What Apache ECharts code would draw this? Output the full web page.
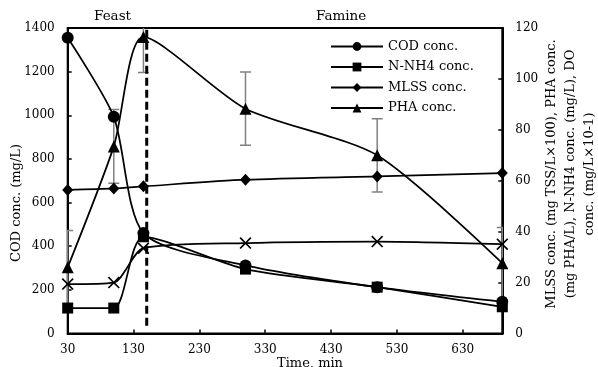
<!DOCTYPE html>
<html>
<head>
<meta charset="utf-8">
<script src="https://cdn.jsdelivr.net/npm/echarts@6/dist/echarts.min.js"></script>
<style>
html,body{margin:0;padding:0;background:#fff;}
#chart{width:598px;height:367px;}
</style>
</head>
<body>
<div id="chart"></div>
<script>
// ---- data ----
const times = [30, 100, 145, 300, 500, 690];
const codConc = [1355, 993, 460, 312, 212, 145];      // left axis, mg/L
const nh4Conc = [10, 10, 38, 25.3, 18.2, 10.5];        // right axis
const mlssConc = [56.4, 57, 57.8, 60.4, 61.7, 63];     // right axis
const phaConc = [26, 73.5, 116.5, 88.3, 70, 27.6];     // right axis
const phaErr = [14.5, 14.5, 14, 14.4, 14.4, 14];       // right axis, +/- error
const doConc = [19.4, 20, 33.5, 35.5, 36.1, 35.1];     // right axis (no legend)
const dividerTime = 150;
const dividerRange = [3, 120];
const xTicks = { min: 30, max: 690, interval: 100 };
const leftTicks = { min: 0, max: 1400, interval: 200 };
const rightTicks = { min: 0, max: 120, interval: 20 };
const seriesNames = ['COD conc.', 'N-NH4 conc.', 'MLSS conc.', 'PHA conc.'];

const FONT = 'DejaVu Serif';
const pair = (xs, ys) => xs.map((x, i) => [x, ys[i]]);
const crossPath = 'path://M0,1L1,0L5,4L9,0L10,1L6,5L10,9L9,10L5,6L1,10L0,9L4,5Z';
const plain = v => String(v);

const lineCommon = {
  type: 'line',
  smooth: 0.25,
  lineStyle: { color: '#000', width: 1.75 },
  itemStyle: { color: '#000' },
  emphasis: { disabled: true },
  z: 3
};

const chart = echarts.init(document.getElementById('chart'), null, { renderer: 'canvas' });
chart.setOption({
  animation: false,
  backgroundColor: '#fff',
  textStyle: { fontFamily: FONT, color: '#000' },
  grid: { left: 67.7, right: 95.7, top: 28, bottom: 33.5, show: true, borderColor: '#000', borderWidth: 2, backgroundColor: 'transparent' },
  legend: {
    data: seriesNames,
    orient: 'vertical',
    left: 325,
    top: 35,
    itemWidth: 52,
    itemHeight: 11,
    itemGap: 7.5,
    textStyle: { fontFamily: FONT, fontSize: 13, color: '#000' },
    selectedMode: false
  },
  xAxis: {
    type: 'value',
    min: xTicks.min, max: xTicks.max, interval: xTicks.interval,
    axisLine: { show: true, lineStyle: { color: '#000', width: 2 } },
    axisTick: { show: true, inside: true, length: 4, lineStyle: { color: '#000', width: 1.5 } },
    axisLabel: { fontFamily: FONT, fontSize: 12, color: '#000', margin: 10, showMaxLabel: false, formatter: plain },
    splitLine: { show: false }
  },
  yAxis: [
    {
      type: 'value', position: 'left',
      min: leftTicks.min, max: leftTicks.max, interval: leftTicks.interval,
      axisLine: { show: true, lineStyle: { color: '#000', width: 2 } },
      axisTick: { show: true, inside: true, length: 4, lineStyle: { color: '#000', width: 1.5 } },
      axisLabel: { fontFamily: FONT, fontSize: 12, color: '#000', margin: 13, formatter: plain },
      splitLine: { show: false }
    },
    {
      type: 'value', position: 'right',
      min: rightTicks.min, max: rightTicks.max, interval: rightTicks.interval,
      axisLine: { show: true, lineStyle: { color: '#000', width: 2 } },
      axisTick: { show: true, inside: true, length: 4, lineStyle: { color: '#000', width: 1.5 } },
      axisLabel: { fontFamily: FONT, fontSize: 12, color: '#000', margin: 13, formatter: plain },
      splitLine: { show: false }
    }
  ],
  graphic: [
    { type: 'text', left: 94, top: 9, style: { text: 'Feast', font: '13.5px "DejaVu Serif"', fill: '#000' } },
    { type: 'text', left: 316, top: 9, style: { text: 'Famine', font: '13.5px "DejaVu Serif"', fill: '#000' } },
    { type: 'text', x: 17, y: 203, rotation: Math.PI / 2,
      style: { text: 'COD conc. (mg/L)', font: '13px "DejaVu Serif"', fill: '#000', align: 'center', verticalAlign: 'middle' } },
    { type: 'text', x: 571, y: 174, rotation: Math.PI / 2,
      style: { text: 'MLSS conc. (mg TSS/L×100), PHA conc.\n(mg PHA/L), N-NH4 conc. (mg/L), DO\nconc. (mg/L×10-1)', font: '13px "DejaVu Serif"', lineHeight: 19, fill: '#000', align: 'center', verticalAlign: 'middle' } },
    { type: 'text', x: 310, y: 357, style: { text: 'Time, min', font: '13px "DejaVu Serif"', fill: '#000', align: 'center', verticalAlign: 'top' } }
  ],
  series: [
    {
      name: 'PHA error', type: 'custom', yAxisIndex: 1, clip: true, z: 2,
      data: times.map((t, i) => [t, phaConc[i] - phaErr[i], phaConc[i] + phaErr[i]]),
      encode: { x: 0, y: [1, 2] },
      renderItem: function (params, api) {
        const x = api.value(0);
        const lo = api.coord([x, api.value(1)]);
        const hi = api.coord([x, api.value(2)]);
        const cw = 5.5;
        const st = { stroke: '#808080', lineWidth: 1.5, fill: null };
        return {
          type: 'group',
          children: [
            { type: 'line', shape: { x1: lo[0], y1: lo[1], x2: hi[0], y2: hi[1] }, style: st },
            { type: 'line', shape: { x1: lo[0] - cw, y1: lo[1], x2: lo[0] + cw, y2: lo[1] }, style: st },
            { type: 'line', shape: { x1: hi[0] - cw, y1: hi[1], x2: hi[0] + cw, y2: hi[1] }, style: st }
          ]
        };
      },
      silent: true
    },
    {
      name: 'divider', type: 'line', yAxisIndex: 1, z: 2,
      data: [[dividerTime, dividerRange[0]], [dividerTime, dividerRange[1]]],
      symbol: 'none',
      lineStyle: { color: '#000', width: 3, type: [8, 4] },
      silent: true
    },
    Object.assign({}, lineCommon, { name: 'DO conc.', yAxisIndex: 1, data: pair(times, doConc), symbol: crossPath, symbolSize: 12 }),
    Object.assign({}, lineCommon, { name: 'MLSS conc.', yAxisIndex: 1, data: pair(times, mlssConc), symbol: 'diamond', symbolSize: [11, 12] }),
    Object.assign({}, lineCommon, { name: 'PHA conc.', yAxisIndex: 1, data: pair(times, phaConc), symbol: 'triangle', symbolSize: 12 }),
    Object.assign({}, lineCommon, { name: 'COD conc.', yAxisIndex: 0, data: pair(times, codConc), symbol: 'circle', symbolSize: 12 }),
    Object.assign({}, lineCommon, { name: 'N-NH4 conc.', yAxisIndex: 1, data: pair(times, nh4Conc), symbol: 'rect', symbolSize: 11 })
  ]
});
</script>
</body>
</html>
